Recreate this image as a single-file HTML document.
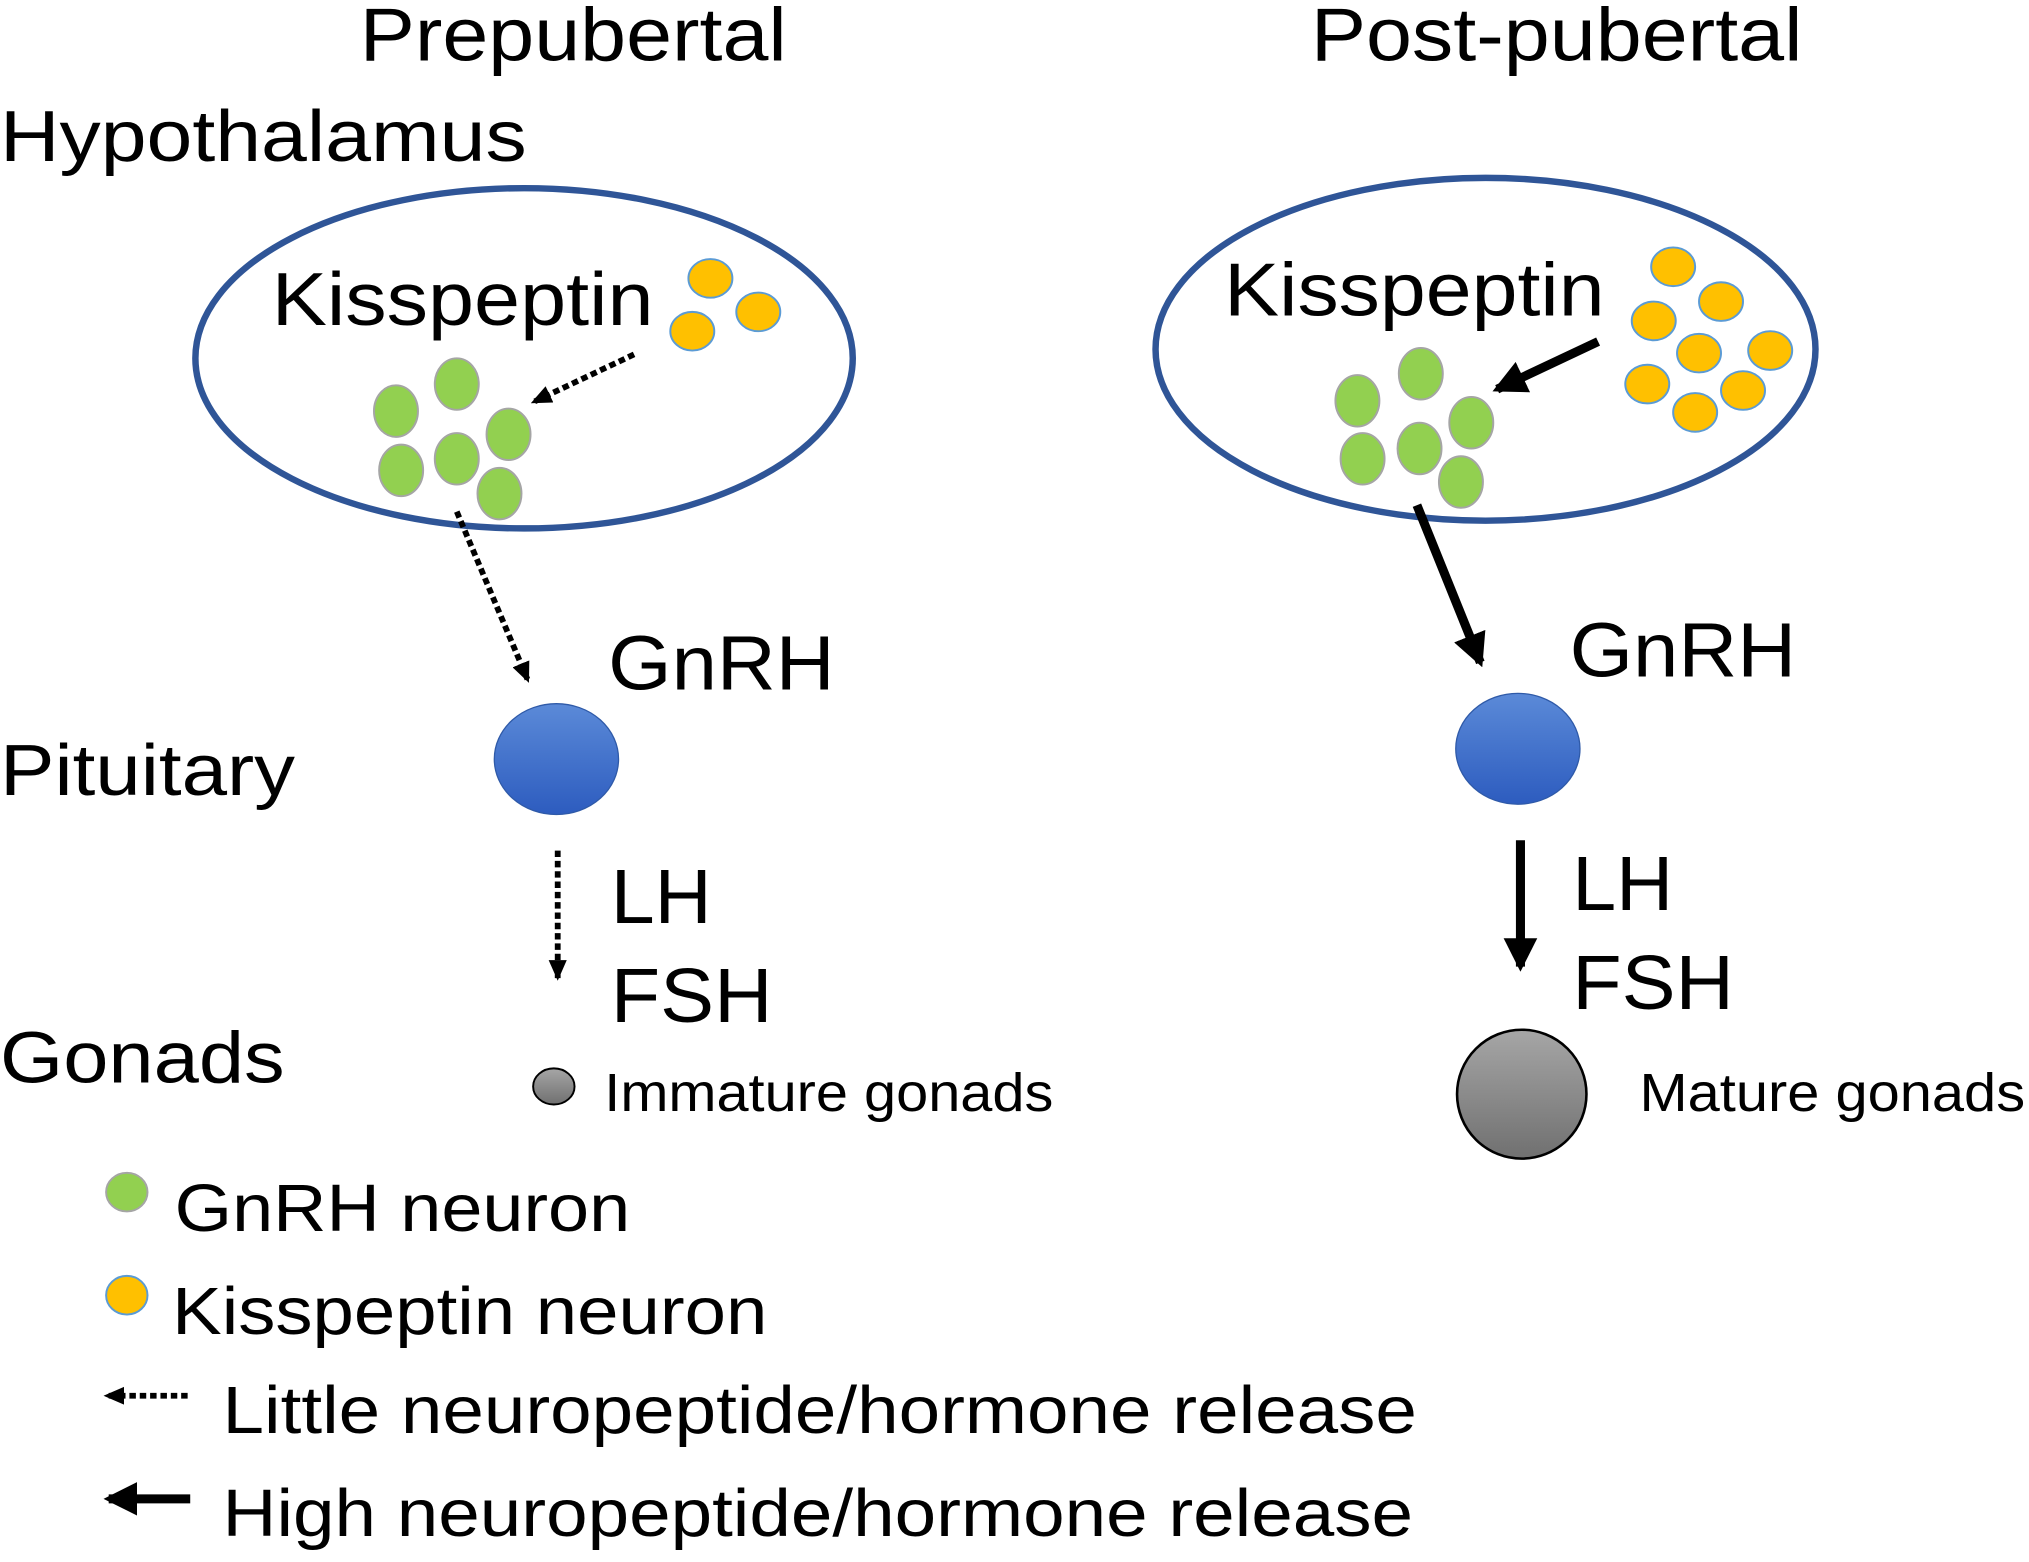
<!DOCTYPE html>
<html><head><meta charset="utf-8"><style>html,body{margin:0;padding:0;background:#fff}svg{display:block}</style></head><body>
<svg width="2029" height="1562" viewBox="0 0 1568 1212" preserveAspectRatio="none" xmlns="http://www.w3.org/2000/svg" font-family="Liberation Sans, Arial, sans-serif">
<defs>
<linearGradient id="bl" x1="0" y1="0" x2="0" y2="1"><stop offset="0" stop-color="#5b8ad8"/><stop offset="1" stop-color="#2d5cbf"/></linearGradient>
<linearGradient id="gr" x1="0" y1="0" x2="0" y2="1"><stop offset="0" stop-color="#a6a6a6"/><stop offset="1" stop-color="#707070"/></linearGradient>
<marker id="ad" markerWidth="16" markerHeight="14" refX="14" refY="7" orient="auto" markerUnits="userSpaceOnUse"><path d="M0,0 L16,7 L0,14 z" fill="#000"/></marker>
<marker id="as" markerWidth="26" markerHeight="26" refX="22" refY="13" orient="auto" markerUnits="userSpaceOnUse"><path d="M0,0 L26,13 L0,26 z" fill="#000"/></marker>
<g id="o"><ellipse rx="17" ry="15" fill="#ffc000" stroke="#5b9bd5" stroke-width="1.5"/></g>
<g id="g"><ellipse rx="17" ry="20" fill="#92d050" stroke="#a5a5a5" stroke-width="1.5"/></g>
</defs>
<g font-size="58" fill="#000" lengthAdjust="spacingAndGlyphs">
<text x="278" y="47" textLength="330" lengthAdjust="spacingAndGlyphs">Prepubertal</text>
<text x="1013" y="47" textLength="380" lengthAdjust="spacingAndGlyphs">Post-pubertal</text>
<text x="0" y="125" font-size="56" textLength="407" lengthAdjust="spacingAndGlyphs">Hypothalamus</text>
</g>
<ellipse cx="405" cy="278" rx="254" ry="132" fill="none" stroke="#2f5597" stroke-width="5"/>
<ellipse cx="1148" cy="271" rx="255" ry="133" fill="none" stroke="#2f5597" stroke-width="5"/>
<text x="210" y="252" font-size="58" textLength="295" lengthAdjust="spacingAndGlyphs">Kisspeptin</text>
<text x="946" y="245" font-size="58" textLength="294" lengthAdjust="spacingAndGlyphs">Kisspeptin</text>
<use href="#o" x="549" y="216"/><use href="#o" x="535" y="257"/><use href="#o" x="586" y="242"/>
<use href="#g" x="306" y="319"/><use href="#g" x="353" y="298"/><use href="#g" x="393" y="337"/><use href="#g" x="310" y="365"/><use href="#g" x="353" y="356"/><use href="#g" x="386" y="383"/>
<use href="#o" x="1293" y="207"/><use href="#o" x="1330" y="234"/><use href="#o" x="1278" y="249"/><use href="#o" x="1313" y="274"/><use href="#o" x="1368" y="272"/><use href="#o" x="1273" y="298"/><use href="#o" x="1347" y="303"/><use href="#o" x="1310" y="320"/>
<use href="#g" x="1049" y="311"/><use href="#g" x="1098" y="290"/><use href="#g" x="1137" y="328"/><use href="#g" x="1053" y="356"/><use href="#g" x="1097" y="348"/><use href="#g" x="1129" y="374"/>
<g stroke="#000" stroke-width="4.5" stroke-dasharray="5,3" fill="none">
<line x1="490" y1="275" x2="412" y2="312" marker-end="url(#ad)"/>
<line x1="353" y1="397" x2="408" y2="528" marker-end="url(#ad)"/>
<line x1="431" y1="660" x2="431" y2="759" marker-end="url(#ad)"/>
<line x1="145" y1="1083" x2="82" y2="1083" marker-end="url(#ad)"/>
</g>
<g stroke="#000" stroke-width="7" fill="none">
<line x1="1235" y1="265" x2="1157" y2="302" marker-end="url(#as)"/>
<line x1="1095" y1="392" x2="1144" y2="514" marker-end="url(#as)"/>
<line x1="1175" y1="652" x2="1175" y2="750" marker-end="url(#as)"/>
<line x1="147" y1="1163" x2="84" y2="1163" marker-end="url(#as)"/>
</g>
<ellipse cx="430" cy="589" rx="48" ry="43" fill="url(#bl)" stroke="#2f5aa8" stroke-width="1"/>
<ellipse cx="1173" cy="581" rx="48" ry="43" fill="url(#bl)" stroke="#2f5aa8" stroke-width="1"/>
<g font-size="60">
<text x="470" y="535" textLength="175" lengthAdjust="spacingAndGlyphs">GnRH</text>
<text x="1213" y="525" textLength="175" lengthAdjust="spacingAndGlyphs">GnRH</text>
<text x="472" y="716" textLength="78" lengthAdjust="spacingAndGlyphs">LH</text>
<text x="472" y="793" textLength="125" lengthAdjust="spacingAndGlyphs">FSH</text>
<text x="1215" y="706" textLength="78" lengthAdjust="spacingAndGlyphs">LH</text>
<text x="1215" y="783" textLength="125" lengthAdjust="spacingAndGlyphs">FSH</text>
</g>
<text x="0" y="617" font-size="56" textLength="228" lengthAdjust="spacingAndGlyphs">Pituitary</text>
<text x="0" y="840" font-size="56" textLength="220" lengthAdjust="spacingAndGlyphs">Gonads</text>
<ellipse cx="428" cy="843" rx="16" ry="14" fill="url(#gr)" stroke="#000" stroke-width="1.5"/>
<ellipse cx="1176" cy="849" rx="50" ry="50" fill="url(#gr)" stroke="#000" stroke-width="2"/>
<text x="467" y="862" font-size="42" textLength="347" lengthAdjust="spacingAndGlyphs">Immature gonads</text>
<text x="1267" y="862" font-size="42" textLength="298" lengthAdjust="spacingAndGlyphs">Mature gonads</text>
<ellipse cx="98" cy="925" rx="16" ry="15" fill="#92d050" stroke="#a5a5a5" stroke-width="1.5"/>
<ellipse cx="98" cy="1005" rx="16" ry="15" fill="#ffc000" stroke="#5b9bd5" stroke-width="1.5"/>
<g font-size="52">
<text x="135" y="955" textLength="352" lengthAdjust="spacingAndGlyphs">GnRH neuron</text>
<text x="133" y="1035" textLength="460" lengthAdjust="spacingAndGlyphs">Kisspeptin neuron</text>
<text x="172" y="1112" textLength="923" lengthAdjust="spacingAndGlyphs">Little neuropeptide/hormone release</text>
<text x="172" y="1192" textLength="920" lengthAdjust="spacingAndGlyphs">High neuropeptide/hormone release</text>
</g>
</svg>
</body></html>
